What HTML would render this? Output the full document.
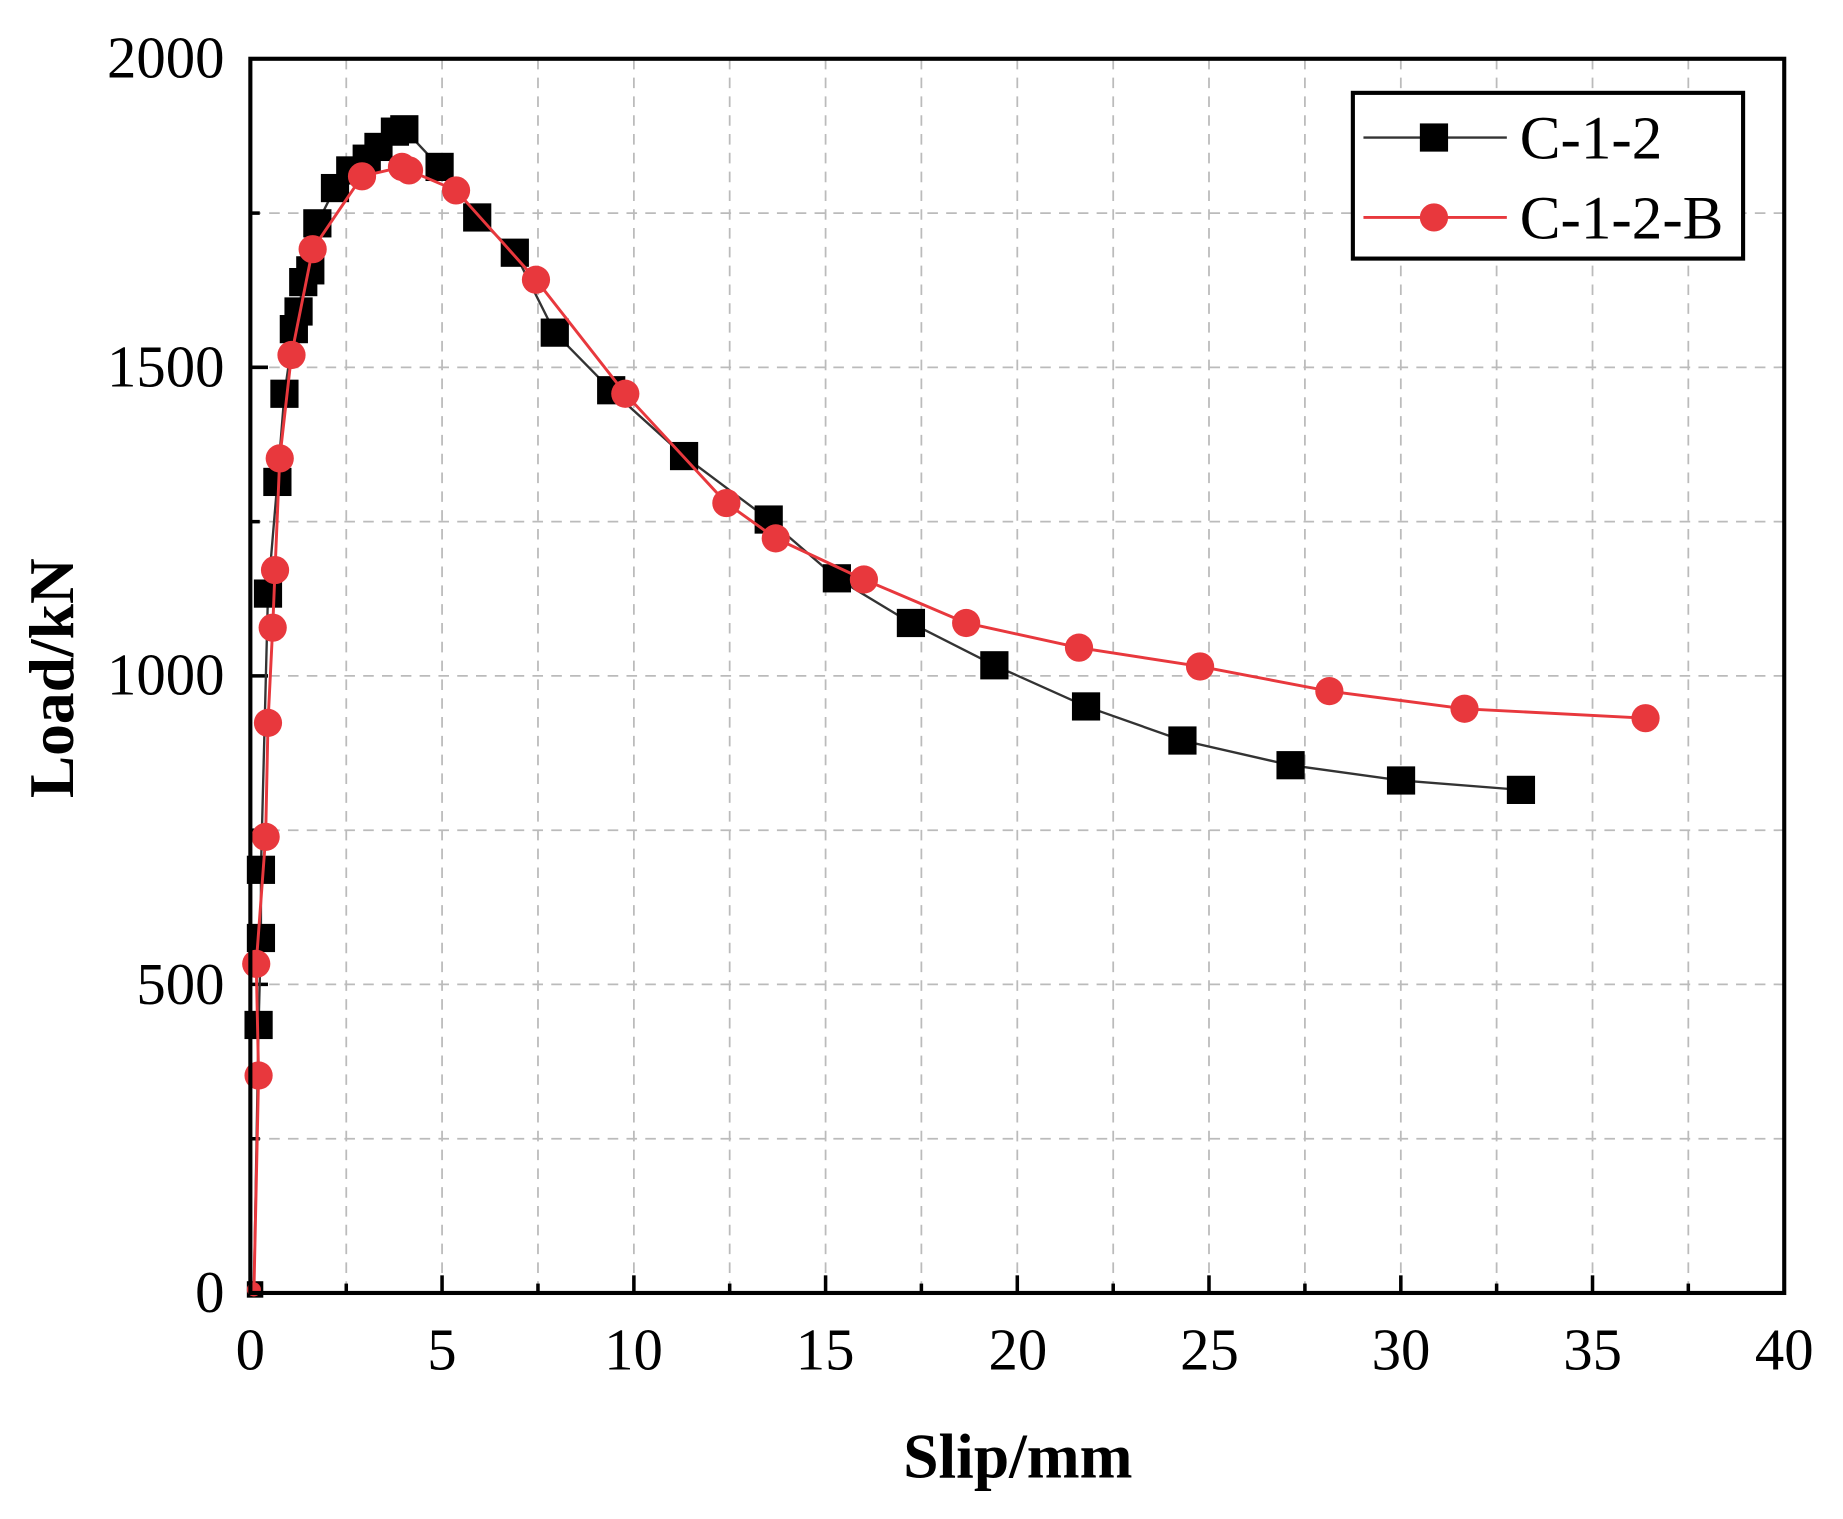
<!DOCTYPE html>
<html><head><meta charset="utf-8"><style>html,body{margin:0;padding:0;background:#fff}svg{display:block}</style></head><body>
<svg width="1843" height="1519" viewBox="0 0 1568 1292.3" preserveAspectRatio="none" xmlns="http://www.w3.org/2000/svg" font-family="Liberation Serif, serif">
<rect width="1568" height="1293" fill="#fff"/>
<g stroke="#bbb" stroke-width="1.5" stroke-dasharray="9,7">
<line x1="294.6" y1="50" x2="294.6" y2="1100"/><line x1="376.1" y1="50" x2="376.1" y2="1100"/><line x1="457.7" y1="50" x2="457.7" y2="1100"/><line x1="539.3" y1="50" x2="539.3" y2="1100"/><line x1="620.8" y1="50" x2="620.8" y2="1100"/><line x1="702.4" y1="50" x2="702.4" y2="1100"/><line x1="783.9" y1="50" x2="783.9" y2="1100"/><line x1="865.5" y1="50" x2="865.5" y2="1100"/><line x1="947.1" y1="50" x2="947.1" y2="1100"/><line x1="1028.6" y1="50" x2="1028.6" y2="1100"/><line x1="1110.2" y1="50" x2="1110.2" y2="1100"/><line x1="1191.8" y1="50" x2="1191.8" y2="1100"/><line x1="1273.3" y1="50" x2="1273.3" y2="1100"/><line x1="1354.9" y1="50" x2="1354.9" y2="1100"/><line x1="1436.4" y1="50" x2="1436.4" y2="1100"/>
<line x1="213" y1="181.3" x2="1518" y2="181.3"/><line x1="213" y1="312.5" x2="1518" y2="312.5"/><line x1="213" y1="443.8" x2="1518" y2="443.8"/><line x1="213" y1="575" x2="1518" y2="575"/><line x1="213" y1="706.3" x2="1518" y2="706.3"/><line x1="213" y1="837.5" x2="1518" y2="837.5"/><line x1="213" y1="968.8" x2="1518" y2="968.8"/>
</g>
<g stroke="#000" stroke-width="3">
<line x1="294.6" y1="1100" x2="294.6" y2="1092"/><line x1="376.1" y1="1100" x2="376.1" y2="1085"/><line x1="457.7" y1="1100" x2="457.7" y2="1092"/><line x1="539.3" y1="1100" x2="539.3" y2="1085"/><line x1="620.8" y1="1100" x2="620.8" y2="1092"/><line x1="702.4" y1="1100" x2="702.4" y2="1085"/><line x1="783.9" y1="1100" x2="783.9" y2="1092"/><line x1="865.5" y1="1100" x2="865.5" y2="1085"/><line x1="947.1" y1="1100" x2="947.1" y2="1092"/><line x1="1028.6" y1="1100" x2="1028.6" y2="1085"/><line x1="1110.2" y1="1100" x2="1110.2" y2="1092"/><line x1="1191.8" y1="1100" x2="1191.8" y2="1085"/><line x1="1273.3" y1="1100" x2="1273.3" y2="1092"/><line x1="1354.9" y1="1100" x2="1354.9" y2="1085"/><line x1="1436.4" y1="1100" x2="1436.4" y2="1092"/>
<line x1="213" y1="181.3" x2="221" y2="181.3"/><line x1="213" y1="312.5" x2="228" y2="312.5"/><line x1="213" y1="443.8" x2="221" y2="443.8"/><line x1="213" y1="575" x2="228" y2="575"/><line x1="213" y1="706.3" x2="221" y2="706.3"/><line x1="213" y1="837.5" x2="228" y2="837.5"/><line x1="213" y1="968.8" x2="221" y2="968.8"/>
</g>
<polyline fill="none" stroke="#333" stroke-width="2" points="216,1100 220,872 222,798 222,740 228,505 236,410 242,335 250,280 254,265 258,240 264,230 270,190 285,160 298,145 312,135 322,125 336,112 344,110 374,142 406,185 438,215 472,283 520,332 582,388 654,442 712,492 775,530 846,566 924,601 1006,630 1098,651 1192,664 1294,672"/>
<g fill="#000">
<rect x="210" y="1090" width="14" height="14"/>
<g transform="translate(-12,-12)">
<rect x="220" y="872" width="24" height="24"/><rect x="222" y="798" width="24" height="24"/><rect x="222" y="740" width="24" height="24"/><rect x="228" y="505" width="24" height="24"/><rect x="236" y="410" width="24" height="24"/><rect x="242" y="335" width="24" height="24"/><rect x="250" y="280" width="24" height="24"/><rect x="254" y="265" width="24" height="24"/><rect x="258" y="240" width="24" height="24"/><rect x="264" y="230" width="24" height="24"/><rect x="270" y="190" width="24" height="24"/><rect x="285" y="160" width="24" height="24"/><rect x="298" y="145" width="24" height="24"/><rect x="312" y="135" width="24" height="24"/><rect x="322" y="125" width="24" height="24"/><rect x="336" y="112" width="24" height="24"/><rect x="344" y="110" width="24" height="24"/><rect x="374" y="142" width="24" height="24"/><rect x="406" y="185" width="24" height="24"/><rect x="438" y="215" width="24" height="24"/><rect x="472" y="283" width="24" height="24"/><rect x="520" y="332" width="24" height="24"/><rect x="582" y="388" width="24" height="24"/><rect x="654" y="442" width="24" height="24"/><rect x="712" y="492" width="24" height="24"/><rect x="775" y="530" width="24" height="24"/><rect x="846" y="566" width="24" height="24"/><rect x="924" y="601" width="24" height="24"/><rect x="1006" y="630" width="24" height="24"/><rect x="1098" y="651" width="24" height="24"/><rect x="1192" y="664" width="24" height="24"/><rect x="1294" y="672" width="24" height="24"/>
</g></g>
<polyline fill="none" stroke="#e8383d" stroke-width="2.5" points="216,1100 220,915 218,820 226,712 228,615 232,534 234,485 238,390 248,302 266,212 308,150 342,142 348,145 388,162 456,238 532,335 618,428 660,458 735,493 822,530 918,551 1021,567 1131,588 1246,603 1400,611"/>
<g fill="#e8383d">
<circle cx="216" cy="1097" r="6"/><circle cx="220" cy="915" r="12"/><circle cx="218" cy="820" r="12"/><circle cx="226" cy="712" r="12"/><circle cx="228" cy="615" r="12"/><circle cx="232" cy="534" r="12"/><circle cx="234" cy="485" r="12"/><circle cx="238" cy="390" r="12"/><circle cx="248" cy="302" r="12"/><circle cx="266" cy="212" r="12"/><circle cx="308" cy="150" r="12"/><circle cx="342" cy="142" r="12"/><circle cx="348" cy="145" r="12"/><circle cx="388" cy="162" r="12"/><circle cx="456" cy="238" r="12"/><circle cx="532" cy="335" r="12"/><circle cx="618" cy="428" r="12"/><circle cx="660" cy="458" r="12"/><circle cx="735" cy="493" r="12"/><circle cx="822" cy="530" r="12"/><circle cx="918" cy="551" r="12"/><circle cx="1021" cy="567" r="12"/><circle cx="1131" cy="588" r="12"/><circle cx="1246" cy="603" r="12"/><circle cx="1400" cy="611" r="12"/>
</g>
<rect x="213" y="50" width="1305" height="1050" fill="none" stroke="#000" stroke-width="3.5"/>
<rect x="1151" y="79" width="332" height="141" fill="#fff" stroke="#000" stroke-width="3.5"/>
<line x1="1160" y1="117" x2="1282" y2="117" stroke="#333" stroke-width="2"/>
<rect x="1208" y="105" width="24" height="24" fill="#000"/>
<text x="1293" y="135" font-size="52">C-1-2</text>
<line x1="1160" y1="185" x2="1282" y2="185" stroke="#e8383d" stroke-width="2.5"/>
<circle cx="1220" cy="185" r="12" fill="#e8383d"/>
<text x="1293" y="203" font-size="52">C-1-2-B</text>
<g font-size="50" text-anchor="middle">
<text x="213" y="1165">0</text><text x="376" y="1165">5</text><text x="539" y="1165">10</text><text x="702" y="1165">15</text><text x="866" y="1165">20</text><text x="1029" y="1165">25</text><text x="1192" y="1165">30</text><text x="1355" y="1165">35</text><text x="1518" y="1165">40</text>
</g>
<g font-size="50" text-anchor="end">
<text x="191" y="66">2000</text><text x="191" y="329">1500</text><text x="191" y="591">1000</text><text x="191" y="854">500</text><text x="191" y="1116">0</text>
</g>
<text x="866" y="1257" font-size="54" font-weight="bold" text-anchor="middle">Slip/mm</text>
<text transform="translate(62,577) rotate(-90)" font-size="54" font-weight="bold" text-anchor="middle">Load/kN</text>
</svg>
</body></html>
